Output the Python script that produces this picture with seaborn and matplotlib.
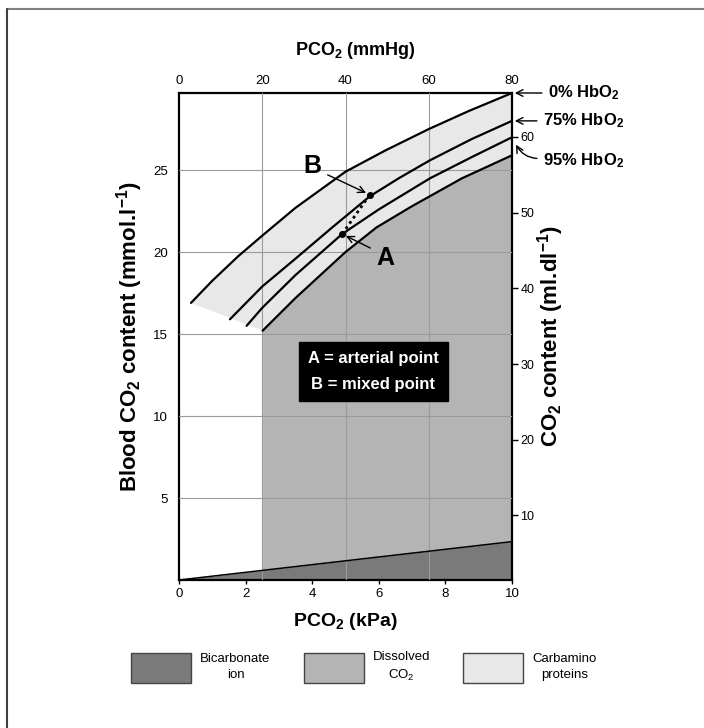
import numpy as np
import pandas as pd
import matplotlib
matplotlib.use("Agg")
import matplotlib.pyplot as plt
import seaborn as sns
from matplotlib.patches import Patch
from matplotlib.lines import Line2D

# ---------------- data ----------------
# PCO2 (kPa) vs blood CO2 content (mmol/l) for the dissociation curves
hb0_kpa = [0.36, 1.0, 1.78, 2.5, 3.5, 5.0, 6.2, 7.5, 8.7, 10.0]
hb0_co2 = [16.9, 18.25, 19.75, 21.0, 22.7, 24.9, 26.2, 27.5, 28.6, 29.7]

hb75_kpa = [1.53, 2.5, 3.5, 4.6, 5.73, 6.6, 7.54, 8.8, 10.0]
hb75_co2 = [15.9, 17.9, 19.6, 21.5, 23.4, 24.5, 25.6, 26.9, 28.0]

hb95_kpa = [2.03, 2.5, 3.5, 4.9, 6.0, 7.54, 8.8, 10.0]
hb95_co2 = [15.5, 16.6, 18.6, 21.1, 22.6, 24.5, 25.8, 27.0]

dis_kpa = [2.51, 3.5, 5.0, 5.93, 7.0, 8.5, 10.0]
dis_co2 = [15.2, 17.2, 20.0, 21.5, 22.8, 24.5, 25.9]

bic_kpa = [0.0, 10.0]
bic_co2 = [0.0, 2.34]

point_names = ["A", "B"]
point_kpa = [4.9, 5.73]
point_co2 = [21.1, 23.5]

curve_labels = ["0% HbO$_\\mathbf{2}$", "75% HbO$_\\mathbf{2}$", "95% HbO$_\\mathbf{2}$"]
legend_labels = ["Bicarbonate\nion", "Dissolved\nCO$_2$", "Carbamino\nproteins"]

kpa_ticks = [0, 2, 4, 6, 8, 10]
mmhg_ticks = [0, 20, 40, 60, 80]
mmol_ticks = [5, 10, 15, 20, 25]
mldl_ticks = [10, 20, 30, 40, 50, 60]

# ---------------- style ----------------
sns.set_theme(style="white")
plt.rcParams["font.family"] = ["Liberation Sans", "DejaVu Sans"]
plt.rcParams["mathtext.fontset"] = "custom"
plt.rcParams["mathtext.rm"] = "Liberation Sans"
plt.rcParams["mathtext.it"] = "Liberation Sans:italic"
plt.rcParams["mathtext.bf"] = "Liberation Sans:bold"
for k in ["text.color", "axes.labelcolor", "xtick.color", "ytick.color",
          "xtick.labelcolor", "ytick.labelcolor"]:
    plt.rcParams[k] = "black"

c_dark = "#7a7a7a"
c_mid = "#b4b4b4"
c_light = "#e8e8e8"
c_grid = "#9a9a9a"

W, H = 704, 728
fig = plt.figure(figsize=(W / 100, H / 100), dpi=100)
ax = fig.add_axes([179 / W, 1 - 580 / H, 333 / W, 487 / H])

# ---------------- fills ----------------
ax.fill(np.r_[hb0_kpa, dis_kpa[::-1]], np.r_[hb0_co2, dis_co2[::-1]],
        color=c_light, lw=0, zorder=1)
ax.fill_between(dis_kpa, np.interp(dis_kpa, bic_kpa, bic_co2), dis_co2,
                color=c_mid, lw=0, zorder=1)
ax.fill_between([2.5, 2.51], np.interp([2.5, 2.51], bic_kpa, bic_co2),
                [15.2, 15.2], color=c_mid, lw=0, zorder=1)
ax.fill_between(bic_kpa, 0, bic_co2, color=c_dark, lw=0, zorder=1)

# ---------------- curves ----------------
for xs, ys in [(hb0_kpa, hb0_co2), (hb75_kpa, hb75_co2),
               (hb95_kpa, hb95_co2), (dis_kpa, dis_co2)]:
    sns.lineplot(x=xs, y=ys, ax=ax, color="black", lw=1.6, sort=False,
                 estimator=None, zorder=3)
sns.lineplot(x=bic_kpa, y=bic_co2, ax=ax, color="black", lw=1.1, sort=False,
             estimator=None, zorder=3)

# A-B dotted link and points
ax.plot(point_kpa, point_co2, ls=(0, (1, 1.3)), color="black", lw=2, zorder=4)
ax.plot(point_kpa, point_co2, "o", color="black", ms=4, zorder=5)

# ---------------- axes ----------------
ax.set_xlim(0, 10)
ax.set_ylim(0, 29.7)
ax.set_xticks(kpa_ticks)
ax.set_xticks([2.5, 5, 7.5], minor=True)
ax.set_yticks(mmol_ticks)
ax.tick_params(axis="x", which="major", direction="out", length=3, width=1,
               color="black", labelsize=9.5, pad=3, bottom=True)
ax.tick_params(axis="x", which="minor", length=0)
ax.tick_params(axis="y", length=0, labelsize=9.5, pad=8)
ax.set_axisbelow(False)
ax.grid(which="minor", axis="x", color=c_grid, lw=0.8, zorder=2)
ax.grid(which="major", axis="y", color=c_grid, lw=0.8, zorder=2)
ax.grid(which="major", axis="x", visible=False)
for s in ax.spines.values():
    s.set_color("black")
    s.set_linewidth(1.6)
    s.set_visible(True)

ax.set_xlabel("PCO$_\\mathbf{2}$ (kPa)", fontsize=14, fontweight="bold")
ax.xaxis.set_label_coords(0.5, (580 - 622) / 487)
ax.xaxis.label.set_va("center")
ax.set_ylabel("Blood CO$_\\mathbf{2}$ content (mmol.l$^\\mathbf{-1}$)",
              fontsize=16, fontweight="bold")
ax.yaxis.set_label_coords((130 - 179) / 333, 0.5)
ax.yaxis.label.set_va("center")

secx = ax.secondary_xaxis("top", functions=(lambda v: v * 8, lambda v: v / 8))
secx.set_xticks(mmhg_ticks)
secx.tick_params(length=0, labelsize=9.5, pad=4.5)
secx.set_xlabel("PCO$_\\mathbf{2}$ (mmHg)", fontsize=13, fontweight="bold",
                labelpad=14)
secx.xaxis.label.set_x(0.53)
for s in secx.spines.values():
    s.set_visible(False)

ax2 = ax.twinx()
ax2.set_ylim(1.48, 65.8)
ax2.set_yticks(mldl_ticks)
ax2.tick_params(axis="y", direction="out", length=4, width=1, color="black",
                labelsize=9, pad=2, right=True)
ax2.grid(False)
for s in ax2.spines.values():
    s.set_visible(False)
ax2.set_ylabel("CO$_\\mathbf{2}$ content (ml.dl$^\\mathbf{-1}$)", fontsize=16,
               fontweight="bold")
ax2.yaxis.set_label_coords((551 - 179) / 333, 0.5)
ax2.yaxis.label.set_va("center")

# ---------------- annotations ----------------
arw = dict(arrowstyle="->", lw=1, color="black", mutation_scale=12)
ax.annotate(curve_labels[0], xy=(10, hb0_co2[-1]), xytext=(11.08, hb0_co2[-1]),
            fontsize=12, fontweight="bold", va="center", ha="left",
            annotation_clip=False, arrowprops=dict(arw, relpos=(0, 0.5)))
ax.annotate(curve_labels[1], xy=(10, hb75_co2[-1]), xytext=(10.93, hb75_co2[-1]),
            fontsize=12, fontweight="bold", va="center", ha="left",
            annotation_clip=False, arrowprops=dict(arw, relpos=(0, 0.5)))
ax.annotate(curve_labels[2], xy=(10.08, hb95_co2[-1] - 0.3), xytext=(10.93, 25.6),
            fontsize=12, fontweight="bold", va="center", ha="left",
            annotation_clip=False,
            arrowprops=dict(arw, relpos=(0, 0.6),
                            connectionstyle="arc3,rad=-0.35"))

ax.annotate(point_names[1], xy=(point_kpa[1], point_co2[1]), xytext=(4.02, 25.24),
            fontsize=18, fontweight="bold", va="center", ha="center",
            arrowprops=dict(arw, relpos=(1.0, 0.25), shrinkB=3))
ax.annotate(point_names[0], xy=(point_kpa[0], point_co2[0]), xytext=(6.19, 19.63),
            fontsize=18, fontweight="bold", va="center", ha="center",
            arrowprops=dict(arw, relpos=(0.0, 0.8), shrinkB=3))

ax.text(5.83, 12.7, "A = arterial point\nB = mixed point", color="white",
        fontsize=12, fontweight="bold", ha="center", va="center",
        linespacing=1.9, zorder=6,
        bbox=dict(boxstyle="square,pad=0.55", fc="black", ec="black"))

# ---------------- legend ----------------
handles = [Patch(facecolor=c, edgecolor="#444444", lw=1)
           for c in [c_dark, c_mid, c_light]]
leg = fig.legend(handles, legend_labels, loc="center",
                 bbox_to_anchor=(364 / W, 1 - 667 / H), ncol=3, frameon=False,
                 fontsize=9.5, handlelength=4.55, handleheight=3.1,
                 handletextpad=0.7, columnspacing=2.5)
for t in leg.get_texts():
    t.set_multialignment("center")
    t.set_linespacing(1.45)

# ---------------- figure frame ----------------
fig.add_artist(Line2D([7 / W, 1], [1 - 9 / H, 1 - 9 / H],
                      transform=fig.transFigure, color="#808080", lw=1.5))
fig.add_artist(Line2D([7 / W, 7 / W], [0, 1 - 9 / H],
                      transform=fig.transFigure, color="#404040", lw=1.5))

fig.savefig("out.png", dpi=100)
